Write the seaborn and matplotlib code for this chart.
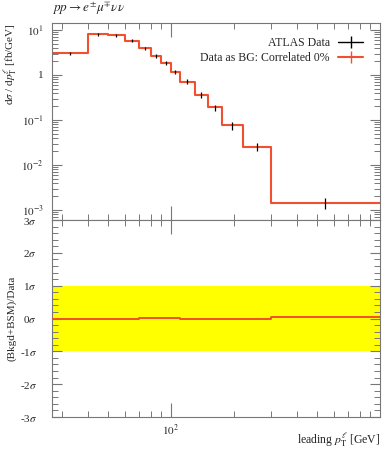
import numpy as np
import pandas as pd
import matplotlib
matplotlib.use("Agg")
import matplotlib.pyplot as plt
import matplotlib.ticker as mticker
from matplotlib.lines import Line2D
import seaborn as sns

# bin edges of leading lepton pT [GeV]
edges = [27, 40, 50, 60, 70, 80, 90, 100, 110, 130, 150, 175, 220, 300, 1000]
# measured cross section [fb/GeV]
data_vals = [3.04, 7.95, 7.6, 5.8, 3.92, 2.65, 1.82, 1.19, 0.715, 0.356, 0.19, 0.0757, 0.0255, 0.00144]
# relative uncertainty
data_relerr = [0.07, 0.06, 0.06, 0.07, 0.08, 0.08, 0.10, 0.10, 0.12, 0.15, 0.15, 0.20, 0.18, 0.26]
# background + BSM prediction (data used as background)
pred_vals = [3.04, 7.95, 7.6, 5.8, 3.92, 2.65, 1.82, 1.19, 0.715, 0.356, 0.19, 0.0757, 0.0255, 0.00144]
# pull in the ratio panel [sigma]
pull_vals = [0.0, 0.0, 0.0, 0.0, 0.01, 0.02, 0.03, 0.03, 0.0, 0.0, 0.0, 0.0, 0.0, 0.05]

sns.set_theme(style="ticks")
plt.rcParams["font.family"] = ["Liberation Serif", "DejaVu Serif"]
plt.rcParams["mathtext.fontset"] = "stix"
plt.rcParams["font.size"] = 9

red = "#f0502e"
grey = "#777777"

edges = np.array(edges)
centers = np.sqrt(edges[:-1] * edges[1:])
step_pred = np.append(pred_vals, pred_vals[-1])
step_pull = np.append(pull_vals, pull_vals[-1])

df_main = pd.DataFrame({"pt": edges, "val": step_pred})
df_pull = pd.DataFrame({"pt": edges, "val": step_pull})

fig = plt.figure(figsize=(3.92, 4.5), dpi=100)
ax = fig.add_axes([52 / 392, 1 - 220 / 450, 328 / 392, 197 / 450])
axr = fig.add_axes([52 / 392, 1 - 417 / 450, 328 / 392, 197 / 450], sharex=ax)

# main panel
sns.lineplot(data=df_main, x="pt", y="val", ax=ax, color=red, lw=1.5,
             drawstyle="steps-post", estimator=None, legend=False)
dv = np.array(data_vals)
ax.errorbar(centers, dv, yerr=dv * np.array(data_relerr), fmt="none",
            ecolor="black", elinewidth=0.9, capsize=0, zorder=4)
ax.set_xscale("log")
ax.set_yscale("log")
ax.set_xlim(27, 1000)
ax.set_ylim(6e-4, 14.3)
ax.set_yticks([10, 1, 0.1, 0.01, 0.001])
ax.yaxis.set_major_formatter(mticker.FixedFormatter(
    [r"$10^{1}$", "1", r"$10^{-1}$", r"$10^{-2}$", r"$10^{-3}$"]))
ax.set_ylabel(r"d$\sigma$ / d$p_\mathrm{T}^{\ell}$ [fb/GeV]", loc="top", fontsize=8)
ax.yaxis.set_label_coords(-0.10, 1.0)
ax.set_xlabel("")
ax.tick_params(labelbottom=False)

handles = [
    Line2D([], [], color="black", lw=1.0, marker="|", markersize=8, markeredgewidth=1.0),
    Line2D([], [], color=red, lw=1.5, marker="|", markersize=8, markeredgewidth=1.0),
]
ax.legend(handles, ["ATLAS Data", "Data as BG: Correlated 0%"], loc="upper right",
          bbox_to_anchor=(0.9625, 0.954), borderaxespad=0, frameon=False,
          markerfirst=False, fontsize=8.5, handlelength=2.1, handletextpad=0.7,
          labelspacing=0.3)

ax.text(0.0, 1.03, r"$pp \rightarrow e^{\pm}\mu^{\mp}\nu\nu$", transform=ax.transAxes,
        ha="left", va="bottom", fontsize=9.5)

# ratio panel
axr.axhspan(-1, 1, color="#ffff00", lw=0, zorder=0)
sns.lineplot(data=df_pull, x="pt", y="val", ax=axr, color=red, lw=1.4,
             drawstyle="steps-post", estimator=None, legend=False, zorder=3)
axr.set_ylim(-3, 3)
axr.set_yticks([3, 2, 1, 0, -1, -2, -3])
axr.yaxis.set_major_formatter(mticker.FixedFormatter(
    [r"3$\sigma$", r"2$\sigma$", r"1$\sigma$", r"0$\sigma$",
     r"-1$\sigma$", r"-2$\sigma$", r"-3$\sigma$"]))
axr.yaxis.set_minor_locator(mticker.MultipleLocator(0.2))
axr.set_ylabel("(Bkgd+BSM)/Data", fontsize=8)
axr.yaxis.set_label_coords(-0.108, 0.5)
axr.set_xlabel(r"leading $p_\mathrm{T}^{\ell}$ [GeV]", loc="right", fontsize=8.5)
axr.xaxis.set_label_coords(1.0, -0.07)
axr.xaxis.set_major_locator(mticker.FixedLocator([100]))
axr.xaxis.set_major_formatter(mticker.FixedFormatter([r"$10^{2}$"]))
axr.xaxis.set_minor_locator(mticker.FixedLocator(
    [30, 40, 50, 60, 70, 80, 90, 200, 300, 400, 500, 600, 700, 800, 900]))
axr.xaxis.set_minor_formatter(mticker.NullFormatter())

for a in (ax, axr):
    for s in a.spines.values():
        s.set_color(grey)
        s.set_linewidth(0.8)
    a.tick_params(which="both", direction="in", top=True, right=True, color=grey,
                  labelsize=8)
    a.tick_params(axis="y", which="major", length=7, width=0.8)
    a.tick_params(axis="x", which="major", length=10, width=0.8, pad=4)
    a.tick_params(which="minor", length=4, width=0.7)
ax.tick_params(axis="y", which="major", pad=6)
axr.tick_params(axis="y", which="major", pad=11)

fig.savefig("out.png", dpi=100)
